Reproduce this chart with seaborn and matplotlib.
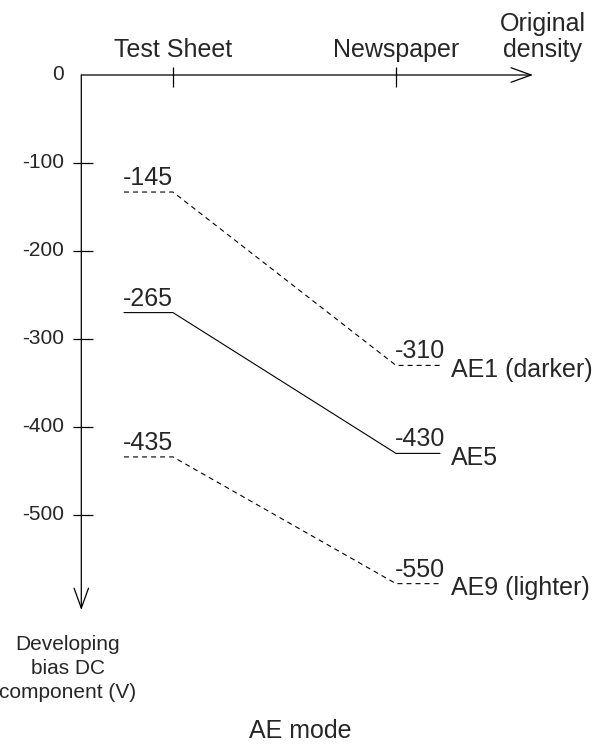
import matplotlib

matplotlib.use("Agg")
import matplotlib.pyplot as plt
from matplotlib import font_manager
import pandas as pd
import seaborn as sns

# Developing bias DC component per AE mode (V)
modes = ["AE1 (darker)", "AE5", "AE9 (lighter)"]
test_sheet_labels = ["-145", "-265", "-435"]
newspaper_labels = ["-310", "-430", "-550"]
# levels as drawn against the axis scale
test_sheet_levels = [-133, -270, -434]
newspaper_levels = [-330, -430, -578]
mode_dashed = [True, False, True]
density_names = ["Test Sheet", "Newspaper"]
y_ticks = [0, -100, -200, -300, -400, -500]

# pixel geometry of the drawing (603 x 747 canvas)
W, H = 603, 747
ORIGIN_PX = (81.3, 75.0)
PX_PER_V = 0.88
DENS_PX = (173.0, 396.0)


def to_x(px):
    return 1 + (px - DENS_PX[0]) / (DENS_PX[1] - DENS_PX[0])


def to_y(py):
    return -(py - ORIGIN_PX[1]) / PX_PER_V


def has_font(name):
    try:
        font_manager.findfont(font_manager.FontProperties(family=name), fallback_to_default=False)
        return True
    except ValueError:
        return False


sns.set_theme(style="white")
plt.rcParams["font.family"] = ["Liberation Sans", "DejaVu Sans"]
plt.rcParams["lines.scale_dashes"] = False
narrow = "Liberation Sans Narrow" if has_font("Liberation Sans Narrow") else "Liberation Sans"

# long table: shelf at Test Sheet, slope, shelf at Newspaper
rows = []
for m, ts, nw in zip(modes, test_sheet_levels, newspaper_levels):
    for pos, lvl in [(to_x(124), ts), (1, ts), (2, nw), (to_x(440), nw)]:
        rows.append({"mode": m, "pos": pos, "level": lvl})
df = pd.DataFrame(rows)

fig = plt.figure(figsize=(W / 100, H / 100), dpi=100)
ax = fig.add_axes([0, 0, 1, 1])

sns.lineplot(
    data=df,
    x="pos",
    y="level",
    hue="mode",
    style="mode",
    palette={m: "black" for m in modes},
    dashes={m: ((3.6, 2.9) if d else "") for m, d in zip(modes, mode_dashed)},
    sort=False,
    estimator=None,
    legend=False,
    lw=0.8,
    ax=ax,
)
ax.set_xlim(to_x(0), to_x(W))
ax.set_ylim(to_y(H), to_y(0))
ax.axis("off")

x0 = to_x(ORIGIN_PX[0])
arrow = dict(arrowstyle="->,head_length=14.4,head_width=5.2", mutation_scale=1,
             lw=0.9, color="black", shrinkA=0, shrinkB=0)
ax.annotate("", xy=(to_x(533), 0), xytext=(x0, 0), arrowprops=arrow)
ax.annotate("", xy=(x0, to_y(610)), xytext=(x0, 0), arrowprops=arrow)

# ticks
ax.hlines(y_ticks[1:], to_x(72.7), to_x(93.3), color="black", lw=0.9)
ax.vlines([1, 2], to_y(86.7), to_y(66.7), color="black", lw=0.9)

for v in y_ticks:
    ax.text(to_x(64), v, str(v), ha="right", va="center", fontsize=15, family=narrow)

for i, name in enumerate(density_names):
    ax.text(i + 1, to_y(57), name, ha="center", va="baseline", fontsize=18)
ax.text(to_x(543), to_y(31), "Original", ha="center", va="baseline", fontsize=18)
ax.text(to_x(543), to_y(57), "density", ha="center", va="baseline", fontsize=18)

# value labels
for lbl, lvl in zip(test_sheet_labels, test_sheet_levels):
    ax.annotate(lbl, (to_x(123), lvl), xytext=(0, 5), textcoords="offset points",
                ha="left", va="baseline", fontsize=18)
for lbl, lvl, m in zip(newspaper_labels, newspaper_levels, modes):
    ax.annotate(lbl, (to_x(395), lvl), xytext=(0, 5), textcoords="offset points",
                ha="left", va="baseline", fontsize=18)
    ax.annotate(m, (to_x(451), lvl), xytext=(0, -8), textcoords="offset points",
                ha="left", va="baseline", fontsize=18)

# axis titles
for line, py in zip(["Developing", "bias DC", "component (V)"], [650, 674, 698]):
    ax.text(to_x(68), to_y(py), line, ha="center", va="baseline", fontsize=15, family=narrow)
ax.text(to_x(300), to_y(738), "AE mode", ha="center", va="baseline", fontsize=18)

fig.savefig("out.png", dpi=100)
